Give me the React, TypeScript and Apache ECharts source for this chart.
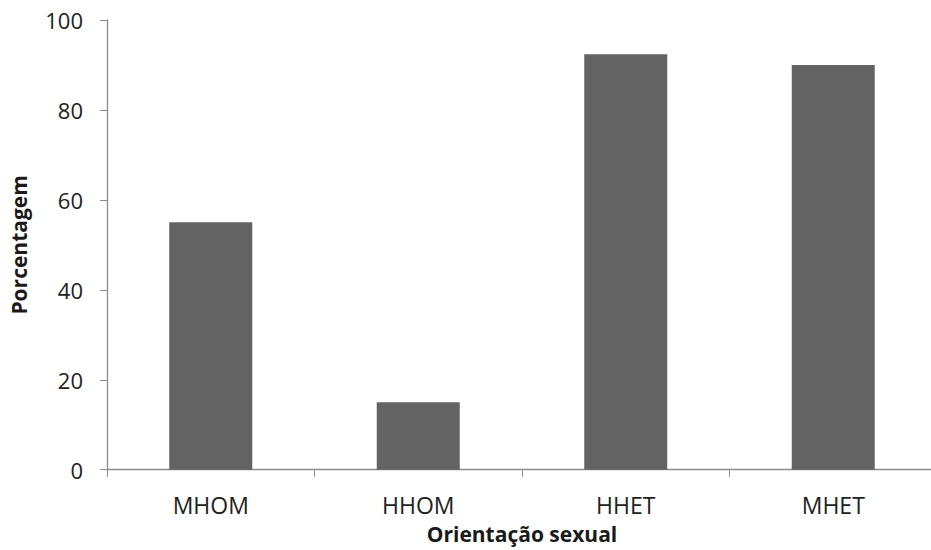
import React, { useEffect, useRef } from "react";
import * as echarts from "echarts";

const categories = ["MHOM", "HHOM", "HHET", "MHET"];
const values = [55, 15, 92.4, 90];
const yTicks = { min: 0, max: 100, interval: 20 };
const xTitle = "Orientação sexual";
const yTitle = "Porcentagem";

export default function App() {
  const ref = useRef<HTMLDivElement>(null);
  useEffect(() => {
    if (!ref.current) return;
    const chart = echarts.init(ref.current, undefined, { renderer: "svg" });
    const font = "'Open Sans', sans-serif";
    chart.setOption({
      animation: false,
      backgroundColor: "#ffffff",
      grid: {
        left: 107,
        top: 20,
        width: 830,
        height: 449.7,
        containLabel: false,
        outerBoundsMode: "none",
      },
      xAxis: {
        type: "category",
        data: categories,
        name: xTitle,
        nameLocation: "middle",
        nameGap: 54,
        nameTextStyle: { fontFamily: font, fontSize: 21, fontWeight: "bold", color: "#1a1a1a" },
        axisLine: { lineStyle: { color: "#8c8c8c", width: 1.3 } },
        axisTick: { show: true, length: 7, alignWithLabel: false, lineStyle: { color: "#8c8c8c" } },
        axisLabel: { fontFamily: font, fontSize: 23, color: "#222", margin: 24 },
        splitLine: { show: false },
      },
      yAxis: {
        type: "value",
        min: yTicks.min,
        max: yTicks.max,
        interval: yTicks.interval,
        name: yTitle,
        nameLocation: "middle",
        nameGap: 78,
        nameRotate: 90,
        nameTextStyle: { fontFamily: font, fontSize: 21, fontWeight: "bold", color: "#1a1a1a" },
        axisLine: { show: true, lineStyle: { color: "#8c8c8c", width: 1.3 } },
        axisTick: { show: true, length: 7, lineStyle: { color: "#8c8c8c" } },
        axisLabel: { fontFamily: font, fontSize: 22, color: "#222", margin: 24 },
        splitLine: { show: false },
      },
      series: [
        {
          type: "bar",
          data: values,
          barWidth: "40%",
          itemStyle: { color: "#636363" },
        },
      ],
    });
    return () => chart.dispose();
  }, []);
  return (
    <div
      ref={ref}
      style={{ position: "fixed", left: 0, top: 0, width: 931, height: 550, background: "#fff" }}
    />
  );
}
